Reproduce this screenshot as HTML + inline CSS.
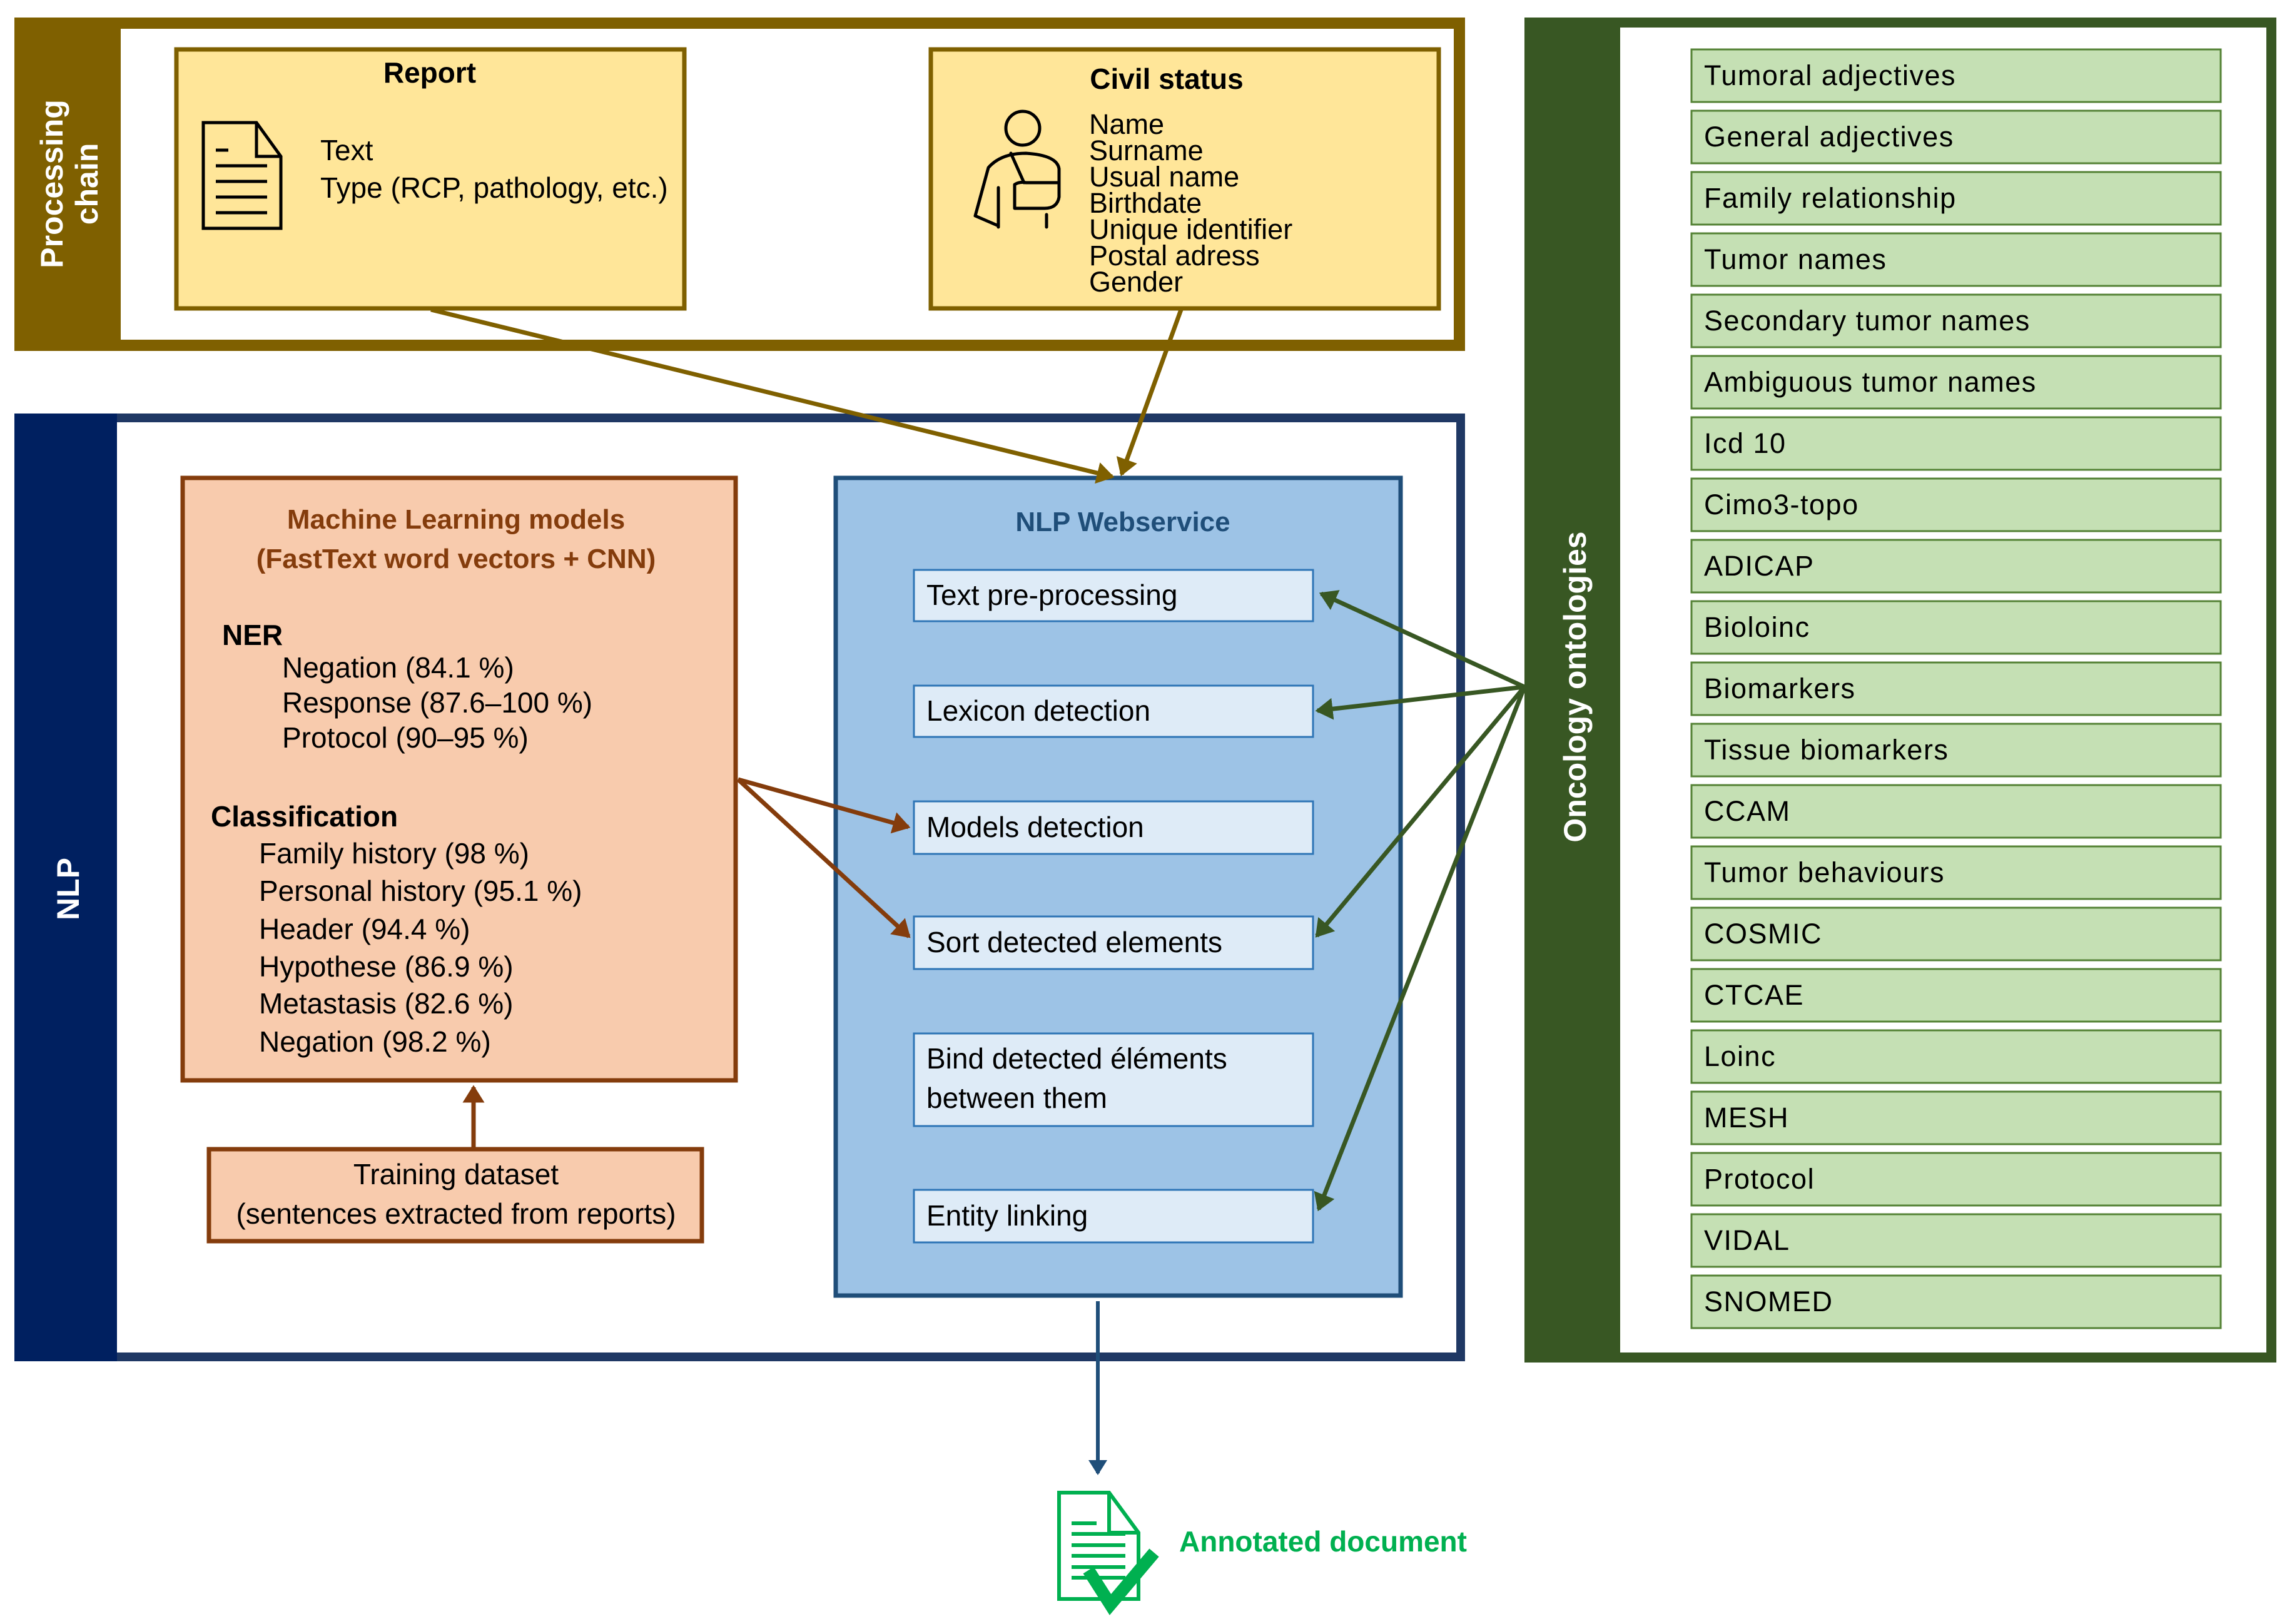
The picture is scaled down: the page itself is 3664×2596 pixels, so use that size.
<!DOCTYPE html>
<html><head><meta charset="utf-8"><style>
html,body{margin:0;padding:0;background:#fff;}
svg{display:block;}
text{font-family:"Liberation Sans",sans-serif;}
</style></head><body>
<svg width="3664" height="2596" viewBox="0 0 3664 2596" xmlns="http://www.w3.org/2000/svg">
<defs>
<marker id="ab" markerWidth="5" markerHeight="5" refX="3.5" refY="2.5" orient="auto" markerUnits="strokeWidth"><path d="M0,0 L4,2.5 L0,5 z" fill="#7f6000"/></marker>
<marker id="ag" markerWidth="5" markerHeight="5" refX="3.5" refY="2.5" orient="auto" markerUnits="strokeWidth"><path d="M0,0 L4,2.5 L0,5 z" fill="#385723"/></marker>
<marker id="ar" markerWidth="5" markerHeight="5" refX="3.5" refY="2.5" orient="auto" markerUnits="strokeWidth"><path d="M0,0 L4,2.5 L0,5 z" fill="#843c0c"/></marker>
<marker id="an" markerWidth="5" markerHeight="5" refX="3.5" refY="2.5" orient="auto" markerUnits="strokeWidth"><path d="M0,0 L4,2.5 L0,5 z" fill="#1f4e79"/></marker>
</defs>

<!-- Processing chain -->
<rect x="32" y="37" width="2301" height="515" fill="#fff" stroke="#7f6000" stroke-width="18"/>
<rect x="23" y="28" width="170" height="533" fill="#7f6000"/>
<text transform="translate(108,294) rotate(-90)" text-anchor="middle" font-size="50" font-weight="bold" fill="#fff"><tspan x="0" y="-8">Processing</tspan><tspan x="0" y="48">chain</tspan></text>

<rect x="282" y="79" width="812" height="414" fill="#ffe699" stroke="#7f6000" stroke-width="7"/>
<text x="687" y="132" text-anchor="middle" font-size="46" font-weight="bold">Report</text>
<g fill="none" stroke="#000" stroke-width="5">
<path d="M325,196 L410,196 L449,250 L449,365 L325,365 Z"/><path d="M410,196 L410,250 L449,250"/>
<path d="M345,240 h20 M345,265 h82 M345,290 h82 M345,315 h82 M345,340 h82"/>
</g>
<text x="512" y="256" font-size="46">Text</text>
<text x="512" y="316" font-size="46">Type (RCP, pathology, etc.)</text>

<rect x="1488" y="79" width="812" height="414" fill="#ffe699" stroke="#7f6000" stroke-width="7"/>
<text x="1865" y="142" text-anchor="middle" font-size="46" font-weight="bold">Civil status</text>
<g fill="none" stroke="#000" stroke-width="5" stroke-linecap="round" stroke-linejoin="round">
<circle cx="1635" cy="205" r="27"/>
<path d="M1596,361 L1559,345 L1580,268 Q1600,245 1640,245 Q1690,248 1693,270 L1693,315 Q1690,333 1670,333 L1622,333 L1622,295 Q1630,290 1640,292 L1693,292"/>
<path d="M1616,245 L1637,292"/><path d="M1596,300 L1596,363"/><path d="M1673,343 L1673,363"/>
</g>
<g font-size="45"><text x="1741" y="214">Name</text><text x="1741" y="256">Surname</text><text x="1741" y="298">Usual name</text><text x="1741" y="340">Birthdate</text><text x="1741" y="382">Unique identifier</text><text x="1741" y="424">Postal adress</text><text x="1741" y="466">Gender</text></g>

<!-- NLP -->
<rect x="30" y="668" width="2305" height="1501" fill="#fff" stroke="#1f3864" stroke-width="14"/>
<rect x="23" y="661" width="164" height="1515" fill="#002060"/>
<text transform="translate(126,1421) rotate(-90)" text-anchor="middle" font-size="50" font-weight="bold" fill="#fff">NLP</text>

<rect x="292" y="764" width="884" height="963" fill="#f8cbad" stroke="#843c0c" stroke-width="7"/>
<text x="729" y="845" text-anchor="middle" font-size="44" font-weight="bold" fill="#843c0c">Machine Learning models</text>
<text x="729" y="908" text-anchor="middle" font-size="44" font-weight="bold" fill="#843c0c">(FastText word vectors + CNN)</text>
<text x="355" y="1031" font-size="46" font-weight="bold">NER</text>
<g font-size="46"><text x="451" y="1083">Negation (84.1 %)</text><text x="451" y="1139">Response (87.6–100 %)</text><text x="451" y="1195">Protocol (90–95 %)</text></g>
<text x="337" y="1321" font-size="46" font-weight="bold">Classification</text>
<g font-size="46"><text x="414" y="1380">Family history (98 %)</text><text x="414" y="1440">Personal history (95.1 %)</text><text x="414" y="1501">Header (94.4 %)</text><text x="414" y="1561">Hypothese (86.9 %)</text><text x="414" y="1620">Metastasis (82.6 %)</text><text x="414" y="1681">Negation (98.2 %)</text></g>

<rect x="334" y="1837" width="788" height="147" fill="#f8cbad" stroke="#843c0c" stroke-width="7"/>
<text x="729" y="1893" text-anchor="middle" font-size="46">Training dataset</text>
<text x="729" y="1956" text-anchor="middle" font-size="46">(sentences extracted from reports)</text>
<line x1="757" y1="1835" x2="757" y2="1738" stroke="#843c0c" stroke-width="7" marker-end="url(#ar)"/>

<rect x="1336" y="764" width="903" height="1307" fill="#9dc3e6" stroke="#1f4e79" stroke-width="7"/>
<text x="1795" y="849" text-anchor="middle" font-size="44" font-weight="bold" fill="#1f4e79">NLP Webservice</text>
<g fill="#deebf7" stroke="#2e75b6" stroke-width="3">
<rect x="1461" y="911" width="638" height="82"/><rect x="1461" y="1096" width="638" height="82"/><rect x="1461" y="1281" width="638" height="84"/>
<rect x="1461" y="1465" width="638" height="84"/><rect x="1461" y="1652" width="638" height="148"/><rect x="1461" y="1902" width="638" height="84"/>
</g>
<g font-size="46"><text x="1481" y="967">Text pre-processing</text><text x="1481" y="1152">Lexicon detection</text><text x="1481" y="1338">Models detection</text><text x="1481" y="1522">Sort detected elements</text><text x="1481" y="1708">Bind detected éléments</text><text x="1481" y="1771">between them</text><text x="1481" y="1959">Entity linking</text></g>

<!-- Oncology -->
<rect x="2445" y="36" width="1186" height="2134" fill="#fff" stroke="#385723" stroke-width="16"/>
<rect x="2437" y="28" width="153" height="2150" fill="#385723"/>
<text transform="translate(2535,1098) rotate(-90)" text-anchor="middle" font-size="50" font-weight="bold" fill="#fff">Oncology ontologies</text>
<g fill="#c5e0b4" stroke="#548235" stroke-width="3">
<rect x="2704" y="79" width="846" height="84"/><rect x="2704" y="177" width="846" height="84"/><rect x="2704" y="275" width="846" height="84"/><rect x="2704" y="373" width="846" height="84"/><rect x="2704" y="471" width="846" height="84"/><rect x="2704" y="569" width="846" height="84"/><rect x="2704" y="667" width="846" height="84"/><rect x="2704" y="765" width="846" height="84"/><rect x="2704" y="863" width="846" height="84"/><rect x="2704" y="961" width="846" height="84"/><rect x="2704" y="1059" width="846" height="84"/><rect x="2704" y="1157" width="846" height="84"/><rect x="2704" y="1255" width="846" height="84"/><rect x="2704" y="1353" width="846" height="84"/><rect x="2704" y="1451" width="846" height="84"/><rect x="2704" y="1549" width="846" height="84"/><rect x="2704" y="1647" width="846" height="84"/><rect x="2704" y="1745" width="846" height="84"/><rect x="2704" y="1843" width="846" height="84"/><rect x="2704" y="1941" width="846" height="84"/><rect x="2704" y="2039" width="846" height="84"/>
</g>
<g font-size="45" letter-spacing="1.5">
<text x="2724" y="136">Tumoral adjectives</text><text x="2724" y="234">General adjectives</text><text x="2724" y="332">Family relationship</text><text x="2724" y="430">Tumor names</text><text x="2724" y="528">Secondary tumor names</text><text x="2724" y="626">Ambiguous tumor names</text><text x="2724" y="724">Icd 10</text><text x="2724" y="822">Cimo3-topo</text><text x="2724" y="920">ADICAP</text><text x="2724" y="1018">Bioloinc</text><text x="2724" y="1116">Biomarkers</text><text x="2724" y="1214">Tissue biomarkers</text><text x="2724" y="1312">CCAM</text><text x="2724" y="1410">Tumor behaviours</text><text x="2724" y="1508">COSMIC</text><text x="2724" y="1606">CTCAE</text><text x="2724" y="1704">Loinc</text><text x="2724" y="1802">MESH</text><text x="2724" y="1900">Protocol</text><text x="2724" y="1998">VIDAL</text><text x="2724" y="2096">SNOMED</text>
</g>

<!-- arrows -->
<line x1="689" y1="495" x2="1778" y2="762" stroke="#7f6000" stroke-width="7" marker-end="url(#ab)"/>
<line x1="1888" y1="495" x2="1793" y2="758" stroke="#7f6000" stroke-width="7" marker-end="url(#ab)"/>
<g stroke="#385723" stroke-width="7" fill="none">
<line x1="2437" y1="1098" x2="2112" y2="949" marker-end="url(#ag)"/>
<line x1="2437" y1="1098" x2="2106" y2="1136" marker-end="url(#ag)"/>
<line x1="2437" y1="1098" x2="2105" y2="1496" marker-end="url(#ag)"/>
<line x1="2437" y1="1098" x2="2108" y2="1933" marker-end="url(#ag)"/>
</g>
<g stroke="#843c0c" stroke-width="7">
<line x1="1180" y1="1246" x2="1452" y2="1322" marker-end="url(#ar)"/>
<line x1="1180" y1="1246" x2="1453" y2="1497" marker-end="url(#ar)"/>
</g>
<line x1="1755" y1="2080" x2="1755" y2="2355" stroke="#1f4e79" stroke-width="6" marker-end="url(#an)"/>

<!-- annotated doc -->
<g fill="none" stroke="#00b050" stroke-width="6">
<path d="M1693,2386 L1773,2386 L1820,2450 L1820,2556 L1693,2556 Z"/><path d="M1773,2386 L1773,2450 L1820,2450"/>
<path d="M1713,2435 h40 M1713,2452 h86 M1713,2470 h86 M1713,2487 h86 M1713,2505 h86 M1713,2522 h86"/>
</g>
<path d="M1740,2510 L1775,2565 L1845,2482" fill="none" stroke="#00b050" stroke-width="20"/>
<text x="1885" y="2480" font-size="46" font-weight="bold" fill="#00b050">Annotated document</text>
</svg>
</body></html>
